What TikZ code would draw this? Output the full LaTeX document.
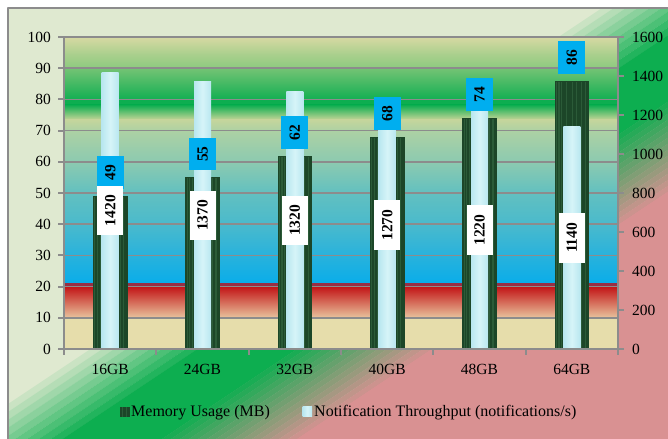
\documentclass[tikz,border=0pt]{standalone}
\usepackage{fontspec}
\setmainfont{Liberation Serif}
\newcommand\chartfont{\fontsize{15.5bp}{18bp}\selectfont}
\newcommand\keyfont{\fontsize{16bp}{19bp}\selectfont}
\definecolor{bgcream}{HTML}{DFE9D0}
\definecolor{bggreen}{HTML}{0DAE50}
\definecolor{bgpink}{HTML}{D99192}
\definecolor{axisgray}{HTML}{8C8C8C}
\definecolor{memgreen}{HTML}{1C4628}
\definecolor{memlight}{HTML}{2B5B38}
\definecolor{ratecyan}{HTML}{B9E7F0}
\definecolor{ratelight}{HTML}{D6F4F8}
\definecolor{lblblue}{HTML}{00AEEF}
% plot area bands, top to bottom
\definecolor{bandA}{HTML}{D7D9A3}
\definecolor{bandB}{HTML}{A8CF8C}
\definecolor{bandC}{HTML}{8CCA7E}
\definecolor{bandD}{HTML}{73C374}
\definecolor{bandE}{HTML}{12AF52}
\definecolor{bandF}{HTML}{C8D598}
\definecolor{bandG}{HTML}{C4D59C}
\definecolor{bandH}{HTML}{ACD1A4}
\definecolor{bandI}{HTML}{8CCAB0}
\definecolor{bandJ}{HTML}{62C0C0}
\definecolor{bandK}{HTML}{4ABACC}
\definecolor{bandL}{HTML}{28B2DC}
\definecolor{bandM}{HTML}{0AADE9}
\definecolor{bandN}{HTML}{982E44}
\definecolor{bandO}{HTML}{C41C1C}
\definecolor{bandP}{HTML}{E8C49E}
\definecolor{bandQ}{HTML}{E6DDAB}
\begin{document}
\begin{tikzpicture}[x=1bp,y=-1bp,line join=bevel,
  axisline/.style={draw=axisgray,line width=2bp},
  gridline/.style={draw=axisgray,line width=1.5bp},
  ticklabel/.style={font=\chartfont,inner sep=0pt,text=black},
  keylabel/.style={font=\keyfont,inner sep=0pt,text=black,anchor=base west},
  memorybar/.style={fill=memgreen},
  streak/.style={draw=memlight,line width=1bp},
  ratebar/.style={left color=ratecyan,right color=ratecyan,middle color=ratelight},
  memlabel/.style={fill=lblblue,font=\chartfont\bfseries,rotate=90,inner sep=0pt,
    minimum width=32.7bp,minimum height=27bp},
  ratelabel/.style={fill=white,font=\chartfont\bfseries,rotate=90,inner sep=0pt,
    minimum width=49.5bp,minimum height=26bp}]
  \useasboundingbox (0,0) rectangle (668,439);
%%
\begin{scope}
  % chart area, diagonal cream -> green -> pink
  \clip (8,8) rectangle (668,439);
  \fill[bgcream] (8,8) rectangle (668,439);
  \begin{scope}[x={(0.5547bp,-0.8321bp)},y={(0.8321bp,0.5547bp)}]
    \foreach \i [evaluate=\i as \p using {\i*10},evaluate=\i as \s using {334+\i*6.6}] in {1,...,10}
      \fill[bggreen!\p!bgcream] (\s,-900) -- ({\s+6.7},-900) -- ({\s+6.7},900) -- (\s,900) -- cycle;
    \fill[bggreen] (400,-900) -- (451,-900) -- (451,900) -- (400,900) -- cycle;
    \foreach \i [evaluate=\i as \p using {\i*6.25},evaluate=\i as \s using {450+\i*5}] in {0,...,16}
      \fill[bgpink!\p!bggreen] (\s,-900) -- ({\s+5.2},-900) -- ({\s+5.2},900) -- (\s,900) -- cycle;
    \fill[bgpink] (530,-900) -- (900,-900) -- (900,900) -- (530,900) -- cycle;
  \end{scope}
\end{scope}
  \draw[axisgray,line width=1.5bp] (8,439) -- (8,8) -- (668,8);
%%
  % Plot area bands
  \shade[top color=bandA,bottom color=bandB] (64,37) rectangle (618,55);
  \shade[top color=bandB,bottom color=bandC] (64,55) rectangle (618,68.5);
  \shade[top color=bandD,bottom color=bandE] (64,68.5) rectangle (618,99.5);
  \fill[bggreen] (64,99.5) rectangle (618,105);
  \shade[top color=bggreen,bottom color=bandF] (64,105) rectangle (618,120);
  \shade[top color=bandG,bottom color=bandH] (64,120) rectangle (618,131);
  \shade[top color=bandH,bottom color=bandI] (64,131) rectangle (618,162);
  \shade[top color=bandI,bottom color=bandJ] (64,162) rectangle (618,193);
  \shade[top color=bandJ,bottom color=bandK] (64,193) rectangle (618,224);
  \shade[top color=bandK,bottom color=bandL] (64,224) rectangle (618,256);
  \shade[top color=bandL,bottom color=bandM] (64,256) rectangle (618,283);
  \fill[bandN] (64,283) rectangle (618,288);
  \shade[top color=bandO,bottom color=bandP] (64,288) rectangle (618,318);
  \fill[bandQ] (64,318) rectangle (618,349);
  % Gridlines, every 10
  \foreach \v in {10,20,...,100}
    \draw[gridline] (58,{349-3.12*\v}) -- (618,{349-3.12*\v});
%%
  % Bars: memory (wide, dark) under throughput (narrow, light)
  \foreach \cx/\mtop/\rtop in {110.2/196.1/72.1, 202.5/177.4/81.9, 294.8/155.6/91.6,
                                387.2/136.8/101.4, 479.5/118.1/111.1, 571.8/80.7/126.7} {
    \fill[memorybar] (\cx-17.3,349) rectangle (\cx+17.3,\mtop);
    \foreach \dx/\w in {-15.5/0.6,-12.8/1.4,-10/0.8,-5/1.2,1/0.7,4.5/1.3,9.8/0.8,13.5/1.5}
      \draw[streak,line width=\w bp] (\cx+\dx,349) -- (\cx+\dx,\mtop+1);
    \shade[ratebar] (\cx-8.5,349) rectangle (\cx+8.5,\rtop);
  }
%%
  % Axes
  \draw[axisline] (64,37) -- (64,349) -- (618,349);
  \draw[axisline] (618,37) -- (618,349);
  \foreach \v in {0,10,...,100}
    \draw[axisline] (58,{349-3.12*\v}) -- (64,{349-3.12*\v});
  \foreach \k in {0,...,6}
    \draw[axisline] ({64+92.33*\k},349) -- ({64+92.33*\k},355);
  \foreach \t in {0,200,...,1600}
    \draw[axisline] (618,{349-0.195*\t}) -- (624,{349-0.195*\t});
  % Tick labels
  \foreach \v in {0,10,...,100}
    \node[ticklabel,anchor=east] (mem\v) at (51,{349-3.12*\v}) {\v};
  \foreach \t in {0,200,...,1600}
    \node[ticklabel,anchor=west] (rate\t) at (632,{349-0.195*\t}) {\t};
  \node[ticklabel] (cat16) at (110.2,369) {16GB};
  \node[ticklabel] (cat24) at (202.5,369) {24GB};
  \node[ticklabel] (cat32) at (294.8,369) {32GB};
  \node[ticklabel] (cat40) at (387.2,369) {40GB};
  \node[ticklabel] (cat48) at (479.5,369) {48GB};
  \node[ticklabel] (cat64) at (571.8,369) {64GB};
%%
  % Data labels
  \node[memlabel] (m16) at (110.2,172.8) {49};
  \node[memlabel] (m24) at (202.5,154.1) {55};
  \node[memlabel] (m32) at (294.8,132.3) {62};
  \node[memlabel] (m40) at (387.2,113.5) {68};
  \node[memlabel] (m48) at (479.5,94.8) {74};
  \node[memlabel] (m64) at (571.8,57.4) {86};
  \node[ratelabel] (r16) at (110.2,210.6) {1420};
  \node[ratelabel] (r24) at (202.5,215.4) {1370};
  \node[ratelabel] (r32) at (294.8,220.3) {1320};
  \node[ratelabel] (r40) at (387.2,225.2) {1270};
  \node[ratelabel] (r48) at (479.5,230.1) {1220};
  \node[ratelabel] (r64) at (571.8,237.9) {1140};
%%
  % Legend
  \fill[memorybar] (120,406.7) rectangle (129.5,416.7);
  \draw[streak] (122.5,407) -- (122.5,416.5) (126.5,407) -- (126.5,416.5);
  \node[keylabel] (keymem) at (131,416.7) {Memory Usage (MB)};
  \shade[ratebar] (302.7,406.7) rectangle (312,416.7);
  \node[keylabel] (keyrate) at (314,416.7) {Notification Throughput (notifications/s)};
%
\end{tikzpicture}
\end{document}
